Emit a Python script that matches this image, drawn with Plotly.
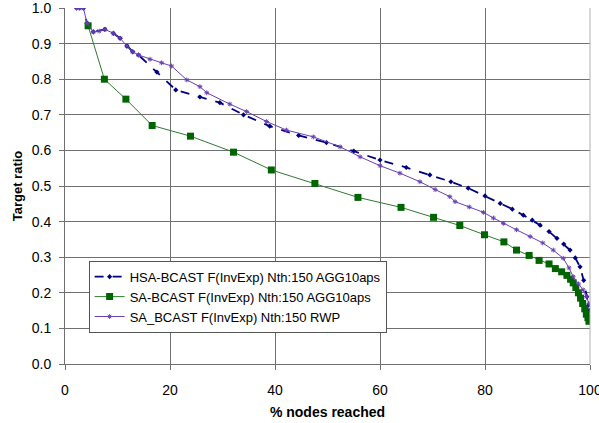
import plotly.graph_objects as go

# HSA-BCAST F(InvExp) Nth:150 AGG10aps
hsa_x = [2.2, 2.8, 3.5, 4.2, 5.4, 7.6, 9.2, 10.5, 11.8, 12.9, 14.0, 17.5, 21.1, 25.7, 29.5, 34.0, 39.0,
         44.5, 49.8, 55.0, 60.0, 65.0, 69.5, 73.5, 76.8, 80.0, 82.9, 85.2, 87.3, 89.0, 90.5, 92.2,
         93.7, 95.0, 96.2, 97.2, 98.1, 98.8, 99.4, 99.7, 99.9]
hsa_y = [1.0, 1.0, 1.0, 0.957, 0.933, 0.94, 0.929, 0.915, 0.893, 0.877, 0.868, 0.82, 0.77, 0.75, 0.734, 0.70, 0.668,
         0.642, 0.622, 0.598, 0.573, 0.552, 0.531, 0.512, 0.494, 0.472, 0.451, 0.435, 0.418, 0.404, 0.39, 0.372,
         0.353, 0.337, 0.32, 0.298, 0.273, 0.235, 0.189, 0.165, 0.15]

# SA-BCAST F(InvExp) Nth:150 AGG10aps
sa_x = [4.4, 7.5, 11.6, 16.6, 23.9, 32.1, 39.3, 47.6, 55.8, 64.0, 70.2, 75.2, 79.9, 83.6, 86.0, 88.4,
        90.3, 92.2, 93.4, 94.6, 95.6, 96.3, 96.8, 97.3, 97.8, 98.2, 98.6, 99.0, 99.3, 99.6, 99.8]
sa_y = [0.95, 0.80, 0.744, 0.67, 0.64, 0.595, 0.545, 0.507, 0.468, 0.44, 0.412, 0.389, 0.363, 0.343, 0.32, 0.305,
        0.291, 0.281, 0.268, 0.259, 0.249, 0.238, 0.228, 0.215, 0.20, 0.185, 0.17, 0.155, 0.14, 0.13, 0.12]

# SA_BCAST F(InvExp) Nth:150 RWP
rwp_x = [2.2, 2.8, 3.5, 4.2, 5.4, 6.5, 7.6, 9.2, 10.5, 11.8, 12.9, 14.0, 16.2, 18.4, 20.3, 23.2, 25.7, 27.0,
         31.4, 34.6, 38.4, 42.2, 47.3, 52.4, 56.2, 60.0, 63.8, 67.6, 70.5, 73.3, 74.3, 77.0, 79.7, 81.6,
         83.5, 86.0, 88.6, 91.0, 93.0, 94.9, 96.0, 96.8, 97.8, 98.7, 99.3, 99.8]
rwp_y = [1.0, 1.0, 1.0, 0.957, 0.933, 0.935, 0.94, 0.929, 0.915, 0.893, 0.877, 0.868, 0.856, 0.846, 0.837, 0.798,
         0.779, 0.762, 0.73, 0.709, 0.681, 0.657, 0.638, 0.61, 0.582, 0.557, 0.536, 0.512, 0.49, 0.47, 0.456,
         0.441, 0.426, 0.41, 0.395, 0.377, 0.358, 0.34, 0.32, 0.297, 0.27, 0.245, 0.225, 0.208, 0.19, 0.17]

x_ticks = [0, 20, 40, 60, 80, 100]
y_ticks = [0.0, 0.1, 0.2, 0.3, 0.4, 0.5, 0.6, 0.7, 0.8, 0.9, 1.0]

fig = go.Figure()
fig.add_trace(go.Scatter(
    x=hsa_x, y=hsa_y, mode="lines+markers", name="HSA-BCAST F(InvExp) Nth:150 AGG10aps",
    line=dict(color="#000080", width=1.8, dash="dash"),
    marker=dict(symbol="diamond", size=4, color="#000080"),
))
fig.add_trace(go.Scatter(
    x=sa_x, y=sa_y, mode="lines+markers", name="SA-BCAST F(InvExp) Nth:150 AGG10aps",
    line=dict(color="#2f7a2f", width=1),
    marker=dict(symbol="square", size=7, color="#006400"),
))
fig.add_trace(go.Scatter(
    x=rwp_x, y=rwp_y, mode="lines+markers", name="SA_BCAST F(InvExp) Nth:150 RWP",
    line=dict(color="#6a3fb5", width=1),
    marker=dict(symbol="asterisk-open", size=4, color="#6a3fb5", line=dict(width=1, color="#6a3fb5")),
))

fig.update_layout(
    width=599, height=423,
    margin=dict(l=65, r=9, t=8, b=59),
    paper_bgcolor="white", plot_bgcolor="white",
    font=dict(family="Liberation Sans, Arial, sans-serif", size=13, color="black"),
    showlegend=True,
    legend=dict(
        x=0.045, y=0.29, xanchor="left", yanchor="top",
        bgcolor="white", bordercolor="#555555", borderwidth=1,
        font=dict(size=13), tracegroupgap=0, itemwidth=30,
    ),
    xaxis=dict(
        range=[0, 100], tickvals=x_ticks, showgrid=True, gridcolor="#707070", gridwidth=1,
        showline=True, linecolor="#707070", linewidth=1, mirror=False,
        ticks="outside", ticklen=5, tickcolor="#707070", zeroline=False,
        ticklabelstandoff=8, ticklabeloverflow="allow", automargin=False,
        title=dict(text="<b>% nodes reached</b>", font=dict(size=14), standoff=10),
        tickfont=dict(size=14),
    ),
    yaxis=dict(
        range=[0, 1.0], tickvals=y_ticks, tickformat=".1f", showgrid=True, gridcolor="#707070", gridwidth=1,
        showline=True, linecolor="#707070", linewidth=1,
        ticks="outside", ticklen=5, tickcolor="#707070", zeroline=False,
        ticklabelstandoff=5, ticklabeloverflow="allow", automargin=False,
        title=dict(text="<b>Target ratio</b>", font=dict(size=13), standoff=6),
        tickfont=dict(size=14),
    ),
    shapes=[dict(type="line", xref="paper", yref="paper", x0=1, x1=1, y0=0, y1=1,
                 line=dict(color="#b0b0b0", width=1))],
)

fig.write_html("out.html")
